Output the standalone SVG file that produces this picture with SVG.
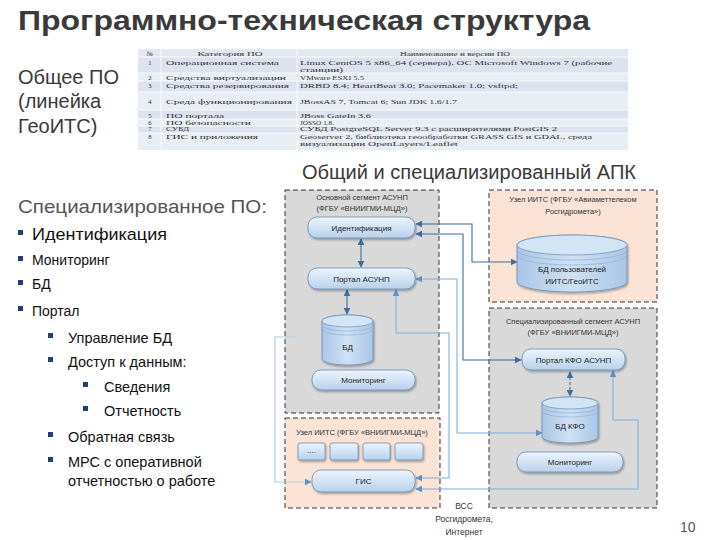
<svg xmlns="http://www.w3.org/2000/svg" width="720" height="540" viewBox="0 0 720 540">
<defs>
<style>
.ttl{font-family:"Liberation Sans",Arial,sans-serif;font-weight:bold;fill:#3a3a3a}
.big{font-family:"Liberation Sans",Arial,sans-serif;fill:#3a3a3a}
.lst{font-family:"Liberation Sans",Arial,sans-serif;fill:#111}
.tb{font-family:"Liberation Serif","Times New Roman",serif;font-size:6.6px;fill:#333}
.nd{font-family:"Liberation Sans",Arial,sans-serif;font-size:8px;fill:#222;text-anchor:middle}
.box{font-family:"Liberation Sans",Arial,sans-serif;font-size:7.5px;fill:#333;text-anchor:middle}
.gray{fill:#d9d9d9;stroke:#333;stroke-width:1;stroke-dasharray:5,3}
.peach{fill:#fbe4d5;stroke:#333;stroke-width:1;stroke-dasharray:5,3}
.pill{fill:url(#gp);stroke:#6a8db3;stroke-width:0.8;filter:url(#sh)}
.cyl{fill:url(#gc);stroke:#6a8db3;stroke-width:0.8;filter:url(#sh)}
.ring{fill:none;stroke:#8fb0d3;stroke-width:0.7}
.top{fill:#d3e4f5;stroke:#6a8db3;stroke-width:0.7}
.c{fill:none;stroke:#3b6f9f;stroke-width:1.1}
.cl{fill:none;stroke:#7fb0dc;stroke-width:1.1}
.bul{fill:#1f3f7a}
</style>
<linearGradient id="gp" x1="0" y1="0" x2="0" y2="1">
<stop offset="0" stop-color="#eef5fd"/><stop offset="1" stop-color="#b7d1ec"/>
</linearGradient>
<linearGradient id="gc" x1="0" y1="0" x2="1" y2="0">
<stop offset="0" stop-color="#a9c6e6"/><stop offset="0.5" stop-color="#cfe1f4"/><stop offset="1" stop-color="#a9c6e6"/>
</linearGradient>
<filter id="sh" x="-10%" y="-20%" width="130%" height="160%">
<feDropShadow dx="1" dy="1.5" stdDeviation="1.2" flood-color="#000" flood-opacity="0.35"/>
</filter>
<marker id="a" viewBox="0 0 10 10" refX="9" refY="5" markerWidth="7" markerHeight="7" markerUnits="userSpaceOnUse" orient="auto-start-reverse">
<path d="M0,0 L10,5 L0,10 z" fill="#3b6f9f"/>
</marker>
<marker id="al" viewBox="0 0 10 10" refX="9" refY="5" markerWidth="7" markerHeight="7" markerUnits="userSpaceOnUse" orient="auto-start-reverse">
<path d="M0,0 L10,5 L0,10 z" fill="#5d95c8"/>
</marker>
</defs>
<rect width="720" height="540" fill="#fff"/>

<text class="ttl" x="18" y="30" font-size="28" textLength="572" lengthAdjust="spacingAndGlyphs">Программно-техническая структура</text>

<g id="general">
<text class="big" x="18" y="84" font-size="20">Общее ПО</text>
<text class="big" x="18" y="108" font-size="20">(линейка</text>
<text class="big" x="18" y="133" font-size="20">ГеоИТС)</text>
</g>

<g id="table">
<rect x="138" y="49" width="490" height="8" fill="#e4e8f0"/>
<rect x="138" y="57" width="490" height="16" fill="#dce3ee"/>
<rect x="138" y="73" width="490" height="8" fill="#e9edf4"/>
<rect x="138" y="81" width="490" height="11" fill="#dce3ee"/>
<rect x="138" y="92" width="490" height="18" fill="#e9edf4"/>
<rect x="138" y="110" width="490" height="9" fill="#dce3ee"/>
<rect x="138" y="119" width="490" height="7" fill="#e9edf4"/>
<rect x="138" y="126" width="490" height="7" fill="#dce3ee"/>
<rect x="138" y="133" width="490" height="17" fill="#e9edf4"/>
<g stroke="#fff" stroke-width="0.8">
<line x1="138" y1="57" x2="628" y2="57"/><line x1="138" y1="73" x2="628" y2="73"/><line x1="138" y1="81" x2="628" y2="81"/><line x1="138" y1="92" x2="628" y2="92"/><line x1="138" y1="110" x2="628" y2="110"/><line x1="138" y1="119" x2="628" y2="119"/><line x1="138" y1="126" x2="628" y2="126"/><line x1="138" y1="133" x2="628" y2="133"/>
<line x1="161" y1="49" x2="161" y2="150"/><line x1="297" y1="49" x2="297" y2="150"/>
</g>
<g class="tb" text-anchor="middle">
<text x="150" y="55.5">№</text><text x="150" y="65">1</text><text x="150" y="79.5">2</text><text x="150" y="87.5">3</text><text x="150" y="103.5">4</text><text x="150" y="118">5</text><text x="150" y="124.5">6</text><text x="150" y="131">7</text><text x="150" y="138.5">8</text>
<text x="230" y="55.5" textLength="65" lengthAdjust="spacingAndGlyphs">Категория ПО</text>
<text x="455" y="55.5" textLength="110" lengthAdjust="spacingAndGlyphs">Наименование и версии ПО</text>
</g>
<g class="tb">
<text x="166" y="65" textLength="113" lengthAdjust="spacingAndGlyphs">Операционная система</text>
<text x="166" y="79.5" textLength="120" lengthAdjust="spacingAndGlyphs">Средства виртуализации</text>
<text x="166" y="87.5" textLength="123" lengthAdjust="spacingAndGlyphs">Средства резервирования</text>
<text x="166" y="103.5" textLength="126" lengthAdjust="spacingAndGlyphs">Среда функционирования</text>
<text x="166" y="118" textLength="58" lengthAdjust="spacingAndGlyphs">ПО портала</text>
<text x="166" y="124.5" textLength="85" lengthAdjust="spacingAndGlyphs">ПО безопасности</text>
<text x="166" y="131" textLength="23" lengthAdjust="spacingAndGlyphs">СУБД</text>
<text x="166" y="138.5" textLength="92" lengthAdjust="spacingAndGlyphs">ГИС и приложения</text>
<text x="300" y="65" textLength="312" lengthAdjust="spacingAndGlyphs">Linux CentOS 5 x86_64 (сервера), ОС Microsoft Windows 7 (рабочие</text>
<text x="300" y="71.5" textLength="43" lengthAdjust="spacingAndGlyphs">станции)</text>
<text x="300" y="79.5" textLength="64" lengthAdjust="spacingAndGlyphs">VMware ESXI 5.5</text>
<text x="300" y="87.5" textLength="218" lengthAdjust="spacingAndGlyphs">DRBD 8.4; HeartBeat 3.0; Pacemaker 1.0; vsftpd;</text>
<text x="300" y="103.5" textLength="157" lengthAdjust="spacingAndGlyphs">JBossAS 7, Tomcat 6; Sun JDK 1.6/1.7</text>
<text x="300" y="118" textLength="71" lengthAdjust="spacingAndGlyphs">JBoss GateIn 3.6</text>
<text x="300" y="124.5" textLength="34" lengthAdjust="spacingAndGlyphs">JOSSO 1.8.</text>
<text x="300" y="131" textLength="257" lengthAdjust="spacingAndGlyphs">СУБД PostgreSQL Server 9.3 с расширителями PostGIS 2</text>
<text x="300" y="138.5" textLength="292" lengthAdjust="spacingAndGlyphs">Geoserver 2, библиотека геообработки GRASS GIS и GDAL, среда</text>
<text x="300" y="146" textLength="158" lengthAdjust="spacingAndGlyphs">визуализации OpenLayers/Leaflet</text>
</g>
</g>

<text class="big" x="302" y="179" font-size="20" textLength="334" lengthAdjust="spacingAndGlyphs">Общий и специализированный АПК</text>

<g id="list">
<text class="big" x="18" y="213" font-size="19" style="fill:#555" textLength="249" lengthAdjust="spacingAndGlyphs">Специализированное ПО:</text>
<rect class="bul" x="18" y="230" width="5" height="5"/><text class="lst" x="32" y="240" font-size="17" textLength="135" lengthAdjust="spacingAndGlyphs">Идентификация</text>
<rect class="bul" x="18" y="256" width="5" height="5"/><text class="lst" x="32" y="265" font-size="14">Мониторинг</text>
<rect class="bul" x="18" y="280" width="5" height="5"/><text class="lst" x="32" y="289" font-size="14"> БД</text>
<rect class="bul" x="18" y="306" width="5" height="5"/><text class="lst" x="32" y="316" font-size="14">Портал</text>
<rect class="bul" x="48" y="333" width="5" height="5"/><text class="lst" x="68" y="343" font-size="14.5">Управление БД</text>
<rect class="bul" x="48" y="357" width="5" height="5"/><text class="lst" x="68" y="367" font-size="14.5">Доступ к данным:</text>
<rect class="bul" x="83" y="382" width="5" height="5"/><text class="lst" x="104" y="392" font-size="14.5">Сведения</text>
<rect class="bul" x="83" y="406" width="5" height="5"/><text class="lst" x="104" y="416" font-size="14.5">Отчетность</text>
<rect class="bul" x="48" y="432" width="5" height="5"/><text class="lst" x="68" y="442" font-size="14.5">Обратная связь</text>
<rect class="bul" x="48" y="457" width="5" height="5"/><text class="lst" x="68" y="467" font-size="14.5">МРС с оперативной</text>
<text class="lst" x="68" y="486" font-size="14.5">отчетностью о работе</text>
</g>

<g id="seg-main">
<rect class="gray" x="285" y="190" width="154" height="223"/>
<text class="box" x="362" y="200">Основной сегмент АСУНП</text>
<text class="box" x="362" y="211">(ФГБУ «ВНИИГМИ-МЦД»)</text>
</g>
<g id="seg-aviamet">
<rect class="peach" x="489" y="190" width="168" height="112"/>
<text class="box" x="573" y="202">Узел ИИТС (ФГБУ «Авиаметтелеком</text>
<text class="box" x="573" y="214">Росгидромета»)</text>
</g>
<g id="seg-spec">
<rect class="gray" x="489" y="308" width="168" height="200"/>
<text class="box" x="573" y="324">Специализированный сегмент АСУНП</text>
<text class="box" x="573" y="335">(ФГБУ «ВНИИГМИ-МЦД»)</text>
</g>
<g id="seg-iits">
<rect class="peach" x="285" y="418" width="155" height="90"/>
<text class="box" x="362" y="435">Узел ИИТС (ФГБУ «ВНИИГМИ-МЦД»)</text>
</g>

<g id="connectors">
<path class="c" d="M416 224 H472 V262 H517" marker-start="url(#a)" marker-end="url(#a)"/>
<path class="c" d="M416 234 H463 V360 H521" marker-start="url(#a)" marker-end="url(#a)"/>
<path class="cl" d="M416 279 H457 V433 H542" marker-start="url(#al)" marker-end="url(#al)"/>
<path class="cl" d="M416 489 H638 V420 H613 V371" marker-start="url(#al)" marker-end="url(#al)"/>
<path class="cl" d="M416 478 H449 V333 H396 V290" marker-start="url(#al)" marker-end="url(#al)"/>
<path class="cl" d="M296 337 H275 V482 H311" style="stroke:#a9cbea" marker-end="url(#al)"/>
<path class="c" d="M361 239 V267" marker-start="url(#a)" marker-end="url(#a)"/>
<path class="c" d="M347 290 V314" marker-start="url(#a)" marker-end="url(#a)"/>
<path class="c" d="M570 372 V396" stroke-dasharray="3,2" marker-start="url(#a)" marker-end="url(#a)"/>
</g>

<g id="n-ident"><rect class="pill" x="308" y="217" width="107" height="21" rx="9"/><text class="nd" x="361.5" y="230.5">Идентификация</text></g>
<g id="n-portal"><rect class="pill" x="308" y="268" width="107" height="21" rx="9"/><text class="nd" x="361.5" y="281.5">Портал АСУНП</text></g>
<g id="n-bd">
<path class="cyl" d="M322,321 A25.5,6 0 0 1 373,321 V359 A25.5,6 0 0 1 322,359 Z"/>
<ellipse class="top" cx="347.5" cy="321" rx="25.5" ry="6"/>
<path class="ring" d="M322,325 A25.5,6 0 0 0 373,325 M322,329 A25.5,6 0 0 0 373,329"/>
<text class="nd" x="347.5" y="350">БД</text>
</g>
<g id="n-mon1"><rect class="pill" x="312" y="370" width="103" height="20" rx="9"/><text class="nd" x="363.5" y="383">Мониторинг</text></g>

<g id="n-bdusers">
<path class="cyl" d="M517,245 A55,10 0 0 1 627,245 V282 A55,10 0 0 1 517,282 Z"/>
<ellipse class="top" cx="572" cy="245" rx="55" ry="10"/>
<path class="ring" d="M517,250 A55,10 0 0 0 627,250 M517,255 A55,10 0 0 0 627,255"/>
<text class="nd" x="572" y="272">БД пользователей</text>
<text class="nd" x="572" y="284">ИИТС/ГеоИТС</text>
</g>

<g id="n-portalkfo"><rect class="pill" x="522" y="349" width="103" height="21" rx="9"/><text class="nd" x="573.5" y="362.5">Портал КФО АСУНП</text></g>
<g id="n-bdkfo">
<path class="cyl" d="M542,403 A28,6 0 0 1 598,403 V437 A28,6 0 0 1 542,437 Z"/>
<ellipse class="top" cx="570" cy="403" rx="28" ry="6"/>
<path class="ring" d="M542,407 A28,6 0 0 0 598,407 M542,411 A28,6 0 0 0 598,411"/>
<text class="nd" x="570" y="429">БД КФО</text>
</g>
<g id="n-mon2"><rect class="pill" x="517" y="452" width="106" height="20" rx="9"/><text class="nd" x="570" y="465">Мониторинг</text></g>

<g id="n-gis">
<rect class="pill" x="298" y="443" width="27" height="17" rx="2"/>
<rect class="pill" x="330" y="443" width="28" height="17" rx="2"/>
<rect class="pill" x="363" y="443" width="27" height="17" rx="2"/>
<rect class="pill" x="395" y="443" width="28" height="17" rx="2"/>
<text class="nd" x="311.5" y="453">....</text>
<rect class="pill" x="312" y="470" width="103" height="22" rx="9"/><text class="nd" x="363.5" y="484">ГИС</text>
</g>

<g id="vss">
<text class="box" x="464" y="509" style="font-size:8.5px">ВСС</text>
<text class="box" x="464" y="522" style="font-size:8.5px">Росгидромета,</text>
<text class="box" x="464" y="535" style="font-size:8.5px">Интернет</text>
</g>

<text class="big" x="680" y="532" font-size="14" style="fill:#555">10</text>
</svg>
